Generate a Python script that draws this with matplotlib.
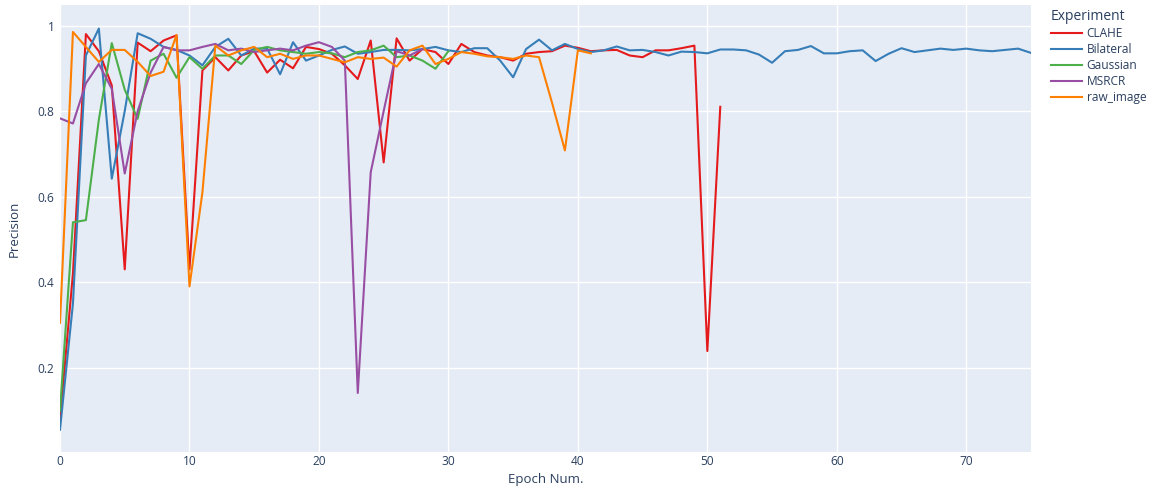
import matplotlib
matplotlib.use("Agg")
import matplotlib.pyplot as plt

# ---- data ----
clahe = [0.08, 0.42, 0.98, 0.94, 0.86, 0.43, 0.96, 0.94, 0.965, 0.977,
         0.43, 0.895, 0.926, 0.895, 0.93, 0.94, 0.89, 0.92, 0.90, 0.95,
         0.945, 0.934, 0.907, 0.875, 0.965, 0.68, 0.97, 0.918, 0.945, 0.938,
         0.91, 0.957, 0.938, 0.93, 0.926, 0.918, 0.934, 0.938, 0.94, 0.953,
         0.948, 0.94, 0.942, 0.943, 0.93, 0.926, 0.942, 0.942, 0.947, 0.953,
         0.239, 0.81]
bilateral = [0.055, 0.35, 0.93, 0.993, 0.642, 0.80, 0.982, 0.969, 0.95, 0.943,
             0.93, 0.907, 0.95, 0.969, 0.93, 0.946, 0.946, 0.886, 0.961, 0.918,
             0.93, 0.943, 0.951, 0.934, 0.938, 0.943, 0.943, 0.942, 0.945, 0.95,
             0.942, 0.938, 0.947, 0.947, 0.918, 0.879, 0.945, 0.967, 0.942, 0.957,
             0.945, 0.938, 0.942, 0.951, 0.942, 0.943, 0.938, 0.93, 0.939, 0.938,
             0.935, 0.944, 0.944, 0.942, 0.932, 0.913, 0.94, 0.943, 0.952, 0.935,
             0.935, 0.94, 0.942, 0.917, 0.934, 0.947, 0.938, 0.942, 0.946, 0.943,
             0.946, 0.942, 0.94, 0.943, 0.946, 0.936]
gaussian = [0.10, 0.54, 0.545, 0.78, 0.959, 0.85, 0.782, 0.918, 0.934, 0.878,
            0.926, 0.899, 0.93, 0.93, 0.91, 0.943, 0.95, 0.942, 0.938, 0.934,
            0.938, 0.935, 0.926, 0.938, 0.942, 0.953, 0.926, 0.93, 0.918, 0.899,
            0.94]
msrcr = [0.783, 0.771, 0.865, 0.91, 0.852, 0.654, 0.80, 0.89, 0.95, 0.942,
         0.942, 0.95, 0.957, 0.942, 0.946, 0.938, 0.942, 0.946, 0.942, 0.953,
         0.961, 0.95, 0.918, 0.141, 0.657, 0.80, 0.94, 0.93, 0.945]
raw_image = [0.305, 0.985, 0.95, 0.915, 0.943, 0.943, 0.915, 0.882, 0.892, 0.978,
             0.39, 0.61, 0.953, 0.93, 0.942, 0.95, 0.926, 0.934, 0.922, 0.93,
             0.93, 0.922, 0.914, 0.926, 0.922, 0.925, 0.904, 0.942, 0.953, 0.91,
             0.922, 0.938, 0.934, 0.928, 0.926, 0.922, 0.93, 0.926, 0.82, 0.708,
             0.942, 0.935]

series_names = ["CLAHE", "Bilateral", "Gaussian", "MSRCR", "raw_image"]
series_values = [clahe, bilateral, gaussian, msrcr, raw_image]
colors = ["#e41a1c", "#377eb8", "#4daf4a", "#984ea3", "#ff7f00"]

x_ticks = [0, 10, 20, 30, 40, 50, 60, 70]
y_ticks = [0.2, 0.4, 0.6, 0.8, 1.0]
y_tick_labels = ["0.2", "0.4", "0.6", "0.8", "1"]

# ---- figure ----
plt.rcParams["font.family"] = ["Open Sans", "DejaVu Sans"]
text_color = "#2a3f5f"
W, H = 1152, 490
fig = plt.figure(figsize=(W / 100, H / 100), dpi=100)
left, right, top, bottom = 60, 1031, 5, 452
ax = fig.add_axes([left / W, (H - bottom) / H, (right - left) / W, (bottom - top) / H])
ax.set_facecolor("#E5ECF6")

handles = []
for name, vals, c in zip(series_names, series_values, colors):
    h, = ax.plot(range(len(vals)), vals, color=c, lw=1.5, label=name, zorder=3)
    handles.append(h)

ax.set_xlim(0, 75)
ax.set_ylim(0.003, 1.048)
ax.set_xticks(x_ticks)
ax.set_yticks(y_ticks)
ax.set_yticklabels(y_tick_labels)
ax.grid(True, color="white", lw=1.0, zorder=0)
ax.set_axisbelow(True)
for s in ax.spines.values():
    s.set_visible(False)
ax.tick_params(length=0, labelsize=8.6, colors=text_color)
ax.tick_params(axis="x", pad=2)
ax.tick_params(axis="y", pad=4)
ax.set_xlabel("Epoch Num.", fontsize=9.5, color=text_color, labelpad=4)
ax.set_ylabel("Precision", fontsize=9.5, color=text_color, labelpad=12)

leg = fig.legend(handles=handles, labels=series_names, loc="upper left",
                 bbox_to_anchor=(1046 / W, 1 - 4 / H), frameon=False,
                 title="Experiment", fontsize=8.6, title_fontsize=10,
                 handlelength=2.6, handletextpad=0.4, labelspacing=0.25,
                 borderaxespad=0, alignment="left")
for t in leg.get_texts():
    t.set_color(text_color)
leg.get_title().set_color(text_color)

fig.savefig("out.png", dpi=100)
